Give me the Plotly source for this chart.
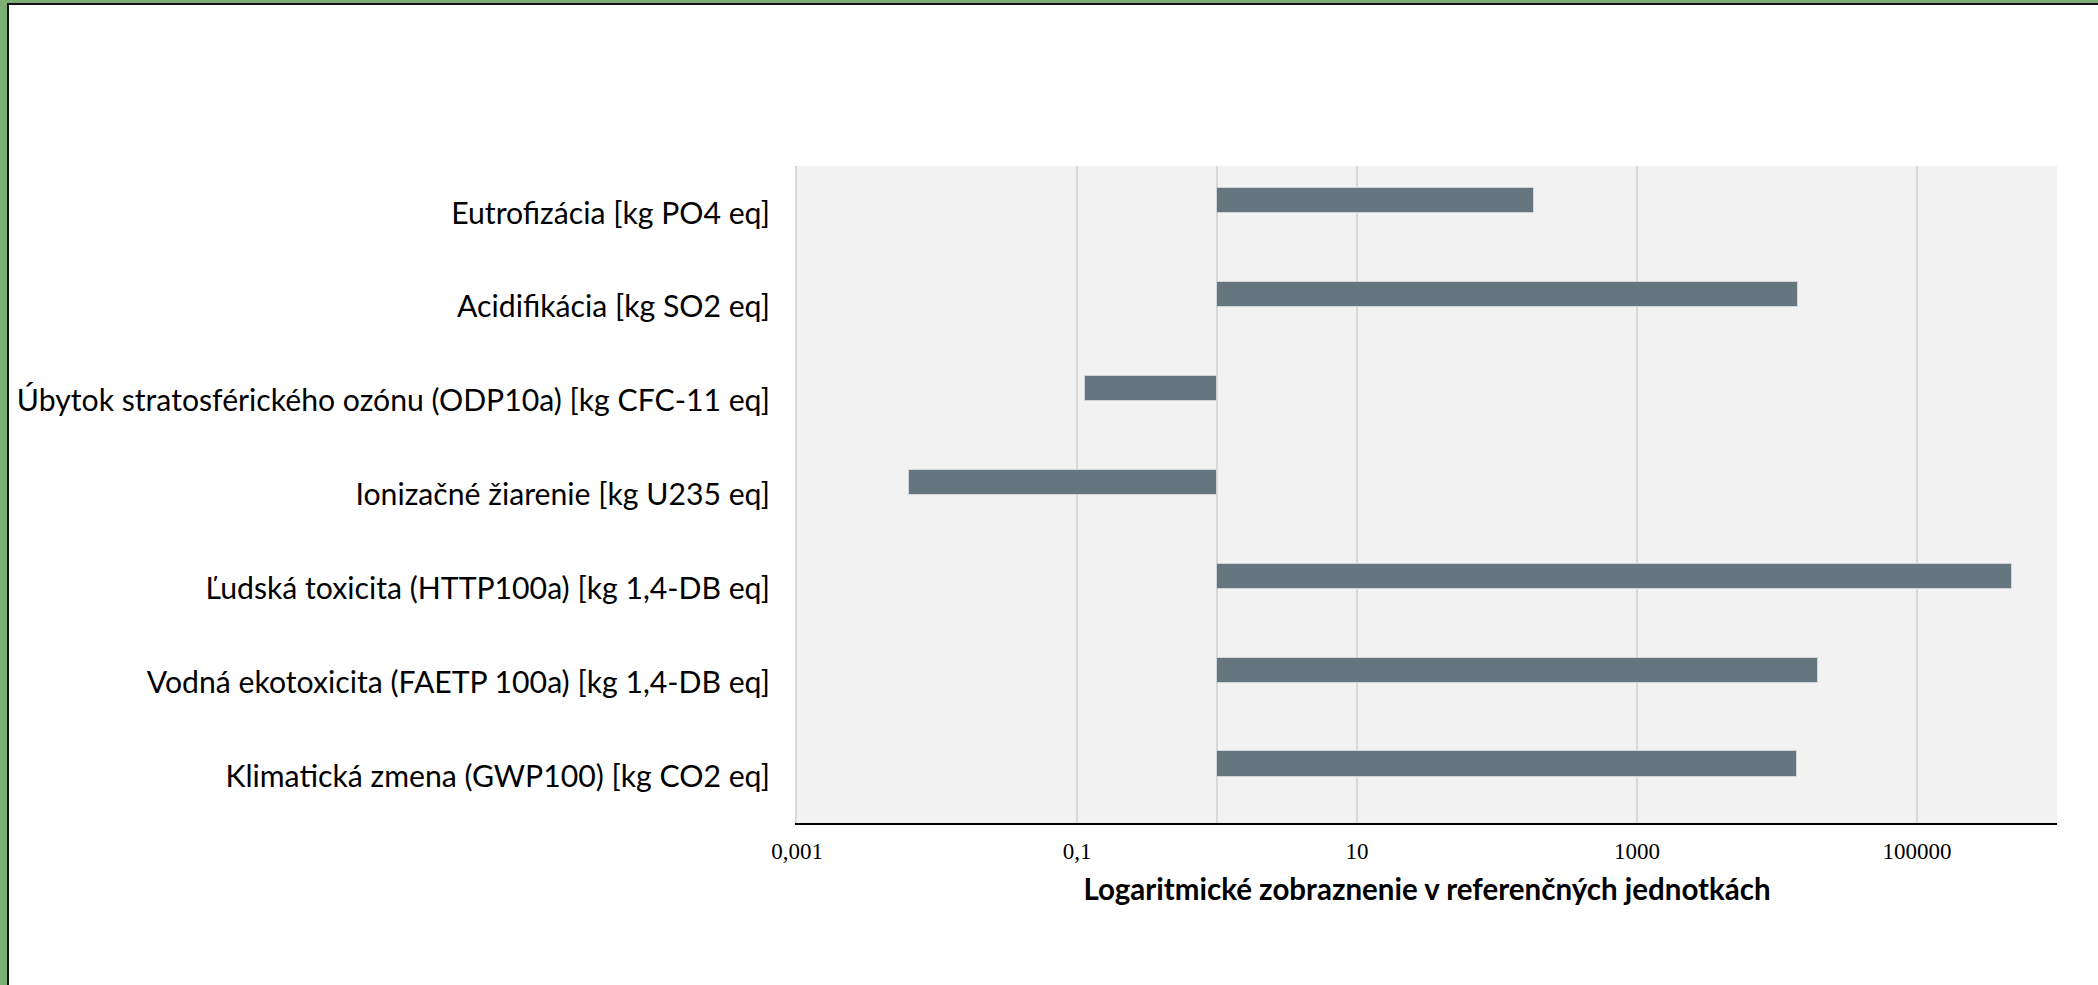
import plotly.graph_objects as go

# Impact categories (top to bottom) and their values in reference units
categories = [
    "Eutrofizácia [kg PO4 eq]",
    "Acidifikácia [kg SO2 eq]",
    "Úbytok stratosférického ozónu (ODP10a) [kg CFC-11 eq]",
    "Ionizačné žiarenie [kg U235 eq]",
    "Ľudská toxicita (HTTP100a) [kg 1,4-DB eq]",
    "Vodná ekotoxicita (FAETP 100a) [kg 1,4-DB eq]",
    "Klimatická zmena (GWP100) [kg CO2 eq]",
]
values = [184, 14100, 0.114, 0.0063, 478000, 19600, 13800]

# Bars grow from the axis crossing at 1 on the log scale
axis_cross = 1
tick_vals = [0.001, 0.1, 1, 10, 1000, 100000]
tick_text = ["0,001", "0,1", "", "10", "1000", "100000"]

W, H = 2098, 985
L, R, T, B = 797, 41, 166, 162
pw, ph = W - L - R, H - T - B


def px_x(p):
    return (p - L) / pw


def px_y(p):
    return (H - B - p) / ph


fig = go.Figure(
    go.Bar(
        y=categories,
        x=[v - axis_cross for v in values],
        base=[axis_cross] * len(values),
        orientation="h",
        width=0.267,
        offset=-0.262,
        marker=dict(color="#65767f", line=dict(color="#cfd5d9", width=1)),
        hoverinfo="skip",
    )
)

fig.update_xaxes(
    type="log",
    range=[-3, 6],
    tickvals=tick_vals,
    ticktext=tick_text,
    showgrid=True,
    gridcolor="#d9d9d9",
    gridwidth=2,
    showline=True,
    linecolor="#000000",
    linewidth=2,
    ticks="",
    ticklabelstandoff=6,
    automargin=False,
    tickfont=dict(family="Liberation Serif", size=23, color="#000000"),
    title=dict(
        text="<b>Logaritmické zobraznenie v referenčných jednotkách</b>",
        font=dict(family="Lato", size=29.5, color="#000000"),
        standoff=17,
    ),
    zeroline=False,
)

fig.update_yaxes(
    type="category",
    autorange="reversed",
    showgrid=False,
    showline=True,
    linecolor="#d9d9d9",
    linewidth=2,
    ticks="",
    ticklabelstandoff=19,
    automargin=False,
    tickfont=dict(family="Lato", size=30.2, color="#000000"),
)

# Page frame: green strip with a dark rule on the left and top edges
frame = [
    dict(x0=px_x(0), x1=px_x(7), y0=px_y(0), y1=px_y(H), fillcolor="#7daf75"),
    dict(x0=px_x(0), x1=px_x(W), y0=px_y(0), y1=px_y(3), fillcolor="#7daf75"),
    dict(x0=px_x(7), x1=px_x(9), y0=px_y(3), y1=px_y(H), fillcolor="#111111"),
    dict(x0=px_x(7), x1=px_x(W), y0=px_y(3), y1=px_y(5), fillcolor="#111111"),
]
for s in frame:
    fig.add_shape(type="rect", xref="paper", yref="paper", line=dict(width=0),
                  layer="above", **s)

fig.update_layout(
    width=W,
    height=H,
    margin=dict(l=L, r=R, t=T, b=B, autoexpand=False),
    paper_bgcolor="#ffffff",
    plot_bgcolor="#f2f2f2",
    showlegend=False,
    bargap=0,
)

fig.write_html("out.html")
